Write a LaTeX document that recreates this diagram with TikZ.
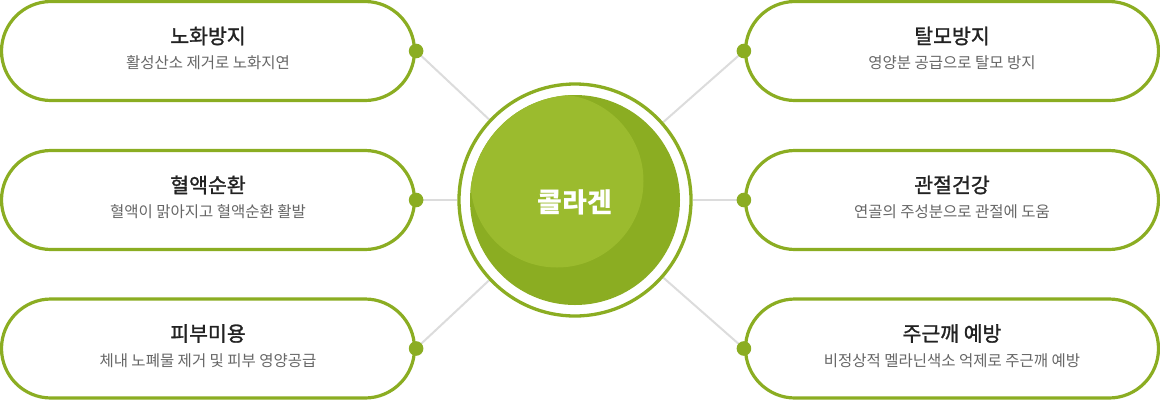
\documentclass[tikz,border=0pt]{standalone}
\usepackage{fontspec}
\setmainfont{Noto Sans CJK KR}
\newfontfamily\medfont[FakeBold=1.3]{Noto Sans CJK KR}
\usetikzlibrary{backgrounds}
\definecolor{gr}{HTML}{8BAD22}
\definecolor{grlight}{HTML}{9BBB2E}
\definecolor{ttl}{HTML}{222222}
\definecolor{sub}{HTML}{666666}
\definecolor{conn}{HTML}{DCDCDC}
\tikzset{
  pill/.style={draw=gr, line width=3.2pt, rounded corners=49.5pt, minimum width=413pt, minimum height=99pt, inner sep=0pt, fill=white},
  dot/.style={circle, fill=gr, minimum size=14.6pt, inner sep=0pt},
  ttext/.style={text=ttl, font=\fontsize{20.5}{24}\medfont, inner sep=0pt},
  stext/.style={text=sub, font=\fontsize{15.5}{19}\selectfont, inner sep=0pt},
  link/.style={draw=conn, line width=2pt},
}
\begin{document}
\begin{tikzpicture}[x=1pt,y=-1pt]
\useasboundingbox (0,0) rectangle (1160,400);
% center
\node[circle, draw=gr, line width=3.3pt, minimum size=232pt, inner sep=0pt] (ring) at (575,200) {};
\node[circle, fill=gr, minimum size=210pt, inner sep=0pt] (core) at (575,200) {};
\begin{scope}
  \clip (575,200) circle (105pt);
  \fill[grlight] (557,181) circle (86.5pt);
\end{scope}
\node[text=white, font=\fontsize{27}{30}\selectfont\bfseries, inner sep=0pt] (ctext) at (575,202) {콜라겐};
% boxes
\node[pill] (b1) at (208,51) {};
\node[pill] (b2) at (208,200) {};
\node[pill] (b3) at (208,348.5) {};
\node[pill] (b4) at (952,51) {};
\node[pill] (b5) at (952,200) {};
\node[pill] (b6) at (952,348.5) {};
% texts
\node[ttext] (t1) at (208,36) {노화방지};
\node[stext] (s1) at (208,63) {활성산소 제거로 노화지연};
\node[ttext] (t2) at (208,185) {혈액순환};
\node[stext] (s2) at (208,212) {혈액이 맑아지고 혈액순환 활발};
\node[ttext] (t3) at (208,333.5) {피부미용};
\node[stext] (s3) at (208,360.5) {체내 노폐물 제거 및 피부 영양공급};
\node[ttext] (t4) at (952,36) {탈모방지};
\node[stext] (s4) at (952,63) {영양분 공급으로 탈모 방지};
\node[ttext] (t5) at (952,185) {관절건강};
\node[stext] (s5) at (952,212) {연골의 주성분으로 관절에 도움};
\node[ttext] (t6) at (952,333.5) {주근깨 예방};
\node[stext] (s6) at (952,360.5) {비정상적 멜라닌색소 억제로 주근깨 예방};
% dots
\node[dot] (d1) at (b1.east) {};
\node[dot] (d2) at (b2.east) {};
\node[dot] (d3) at (b3.east) {};
\node[dot] (d4) at (b4.west) {};
\node[dot] (d5) at (b5.west) {};
\node[dot] (d6) at (b6.west) {};
% connectors
\begin{pgfonlayer}{background}
\foreach \d in {d1,d2,d3,d4,d5,d6}{
  \draw[link] (\d.center) -- (ring);
}
\end{pgfonlayer}
\end{tikzpicture}
\end{document}
